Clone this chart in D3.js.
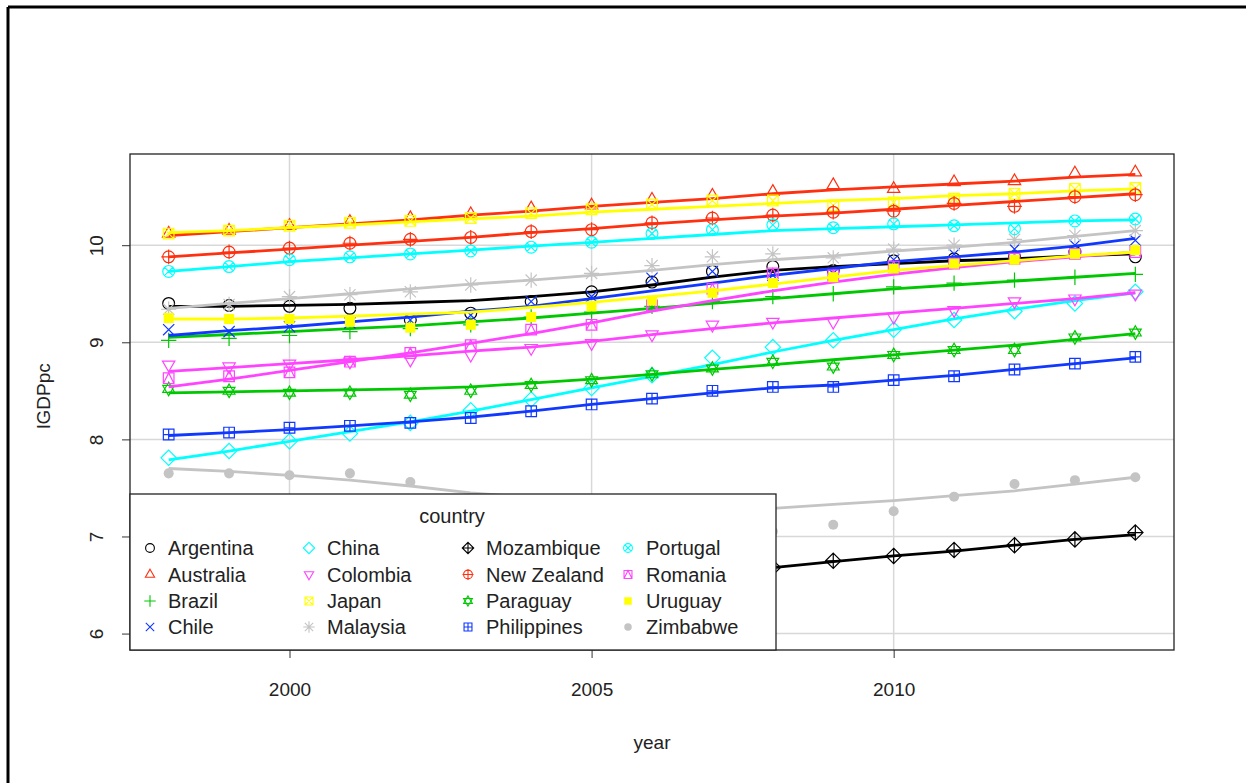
<!DOCTYPE html>
<html>
<head>
<meta charset="utf-8">
<script src="https://cdn.jsdelivr.net/npm/d3@7"></script>
<style>
  html, body { margin: 0; padding: 0; background: #fff; }
  svg { display: block; font-family: "Liberation Sans", Arial, sans-serif; }
</style>
</head>
<body>
<svg id="chart" width="1246" height="783"></svg>
<script>
// Years on the x axis
const years = [1998, 1999, 2000, 2001, 2002, 2003, 2004, 2005, 2006, 2007, 2008, 2009, 2010, 2011, 2012, 2013, 2014];
const xTicks = [2000, 2005, 2010];
const yTicks = [6, 7, 8, 9, 10];

const countries = ["Argentina", "Australia", "Brazil", "Chile", "China", "Colombia", "Japan", "Malaysia",
                   "Mozambique", "New Zealand", "Paraguay", "Philippines", "Portugal", "Romania", "Uruguay", "Zimbabwe"];

// Log GDP per capita, one value per year
const argentina   = [9.40, 9.38, 9.37, 9.35, 9.23, 9.30, 9.42, 9.52, 9.62, 9.73, 9.78, 9.74, 9.84, 9.86, 9.88, 9.93, 9.88];
const australia   = [10.12, 10.15, 10.20, 10.24, 10.28, 10.32, 10.38, 10.41, 10.47, 10.51, 10.55, 10.62, 10.58, 10.65, 10.66, 10.74, 10.75];
const brazil      = [9.02, 9.04, 9.07, 9.11, 9.14, 9.18, 9.26, 9.31, 9.37, 9.42, 9.47, 9.50, 9.57, 9.61, 9.64, 9.67, 9.70];
const chile       = [9.13, 9.11, 9.16, 9.20, 9.23, 9.28, 9.42, 9.47, 9.66, 9.73, 9.69, 9.71, 9.85, 9.91, 9.96, 10.00, 10.05];
const china       = [7.81, 7.88, 7.98, 8.06, 8.17, 8.30, 8.41, 8.53, 8.66, 8.84, 8.95, 9.02, 9.13, 9.23, 9.32, 9.40, 9.52];
const colombia    = [8.77, 8.75, 8.78, 8.80, 8.82, 8.87, 8.94, 8.99, 9.08, 9.18, 9.21, 9.21, 9.26, 9.33, 9.42, 9.45, 9.50];
const japan       = [10.12, 10.15, 10.20, 10.23, 10.25, 10.28, 10.33, 10.37, 10.42, 10.46, 10.46, 10.41, 10.44, 10.48, 10.53, 10.58, 10.59];
const malaysia    = [9.34, 9.39, 9.47, 9.49, 9.52, 9.59, 9.64, 9.71, 9.79, 9.88, 9.91, 9.87, 9.96, 10.00, 10.06, 10.10, 10.15];
const mozambique  = [6.02, 6.08, 6.10, 6.13, 6.17, 6.22, 6.30, 6.38, 6.45, 6.55, 6.68, 6.75, 6.80, 6.86, 6.91, 6.97, 7.04];
const newZealand  = [9.88, 9.93, 9.97, 10.02, 10.06, 10.08, 10.14, 10.16, 10.23, 10.28, 10.31, 10.34, 10.35, 10.43, 10.40, 10.50, 10.52];
const paraguay    = [8.52, 8.50, 8.48, 8.48, 8.46, 8.50, 8.56, 8.61, 8.67, 8.73, 8.80, 8.75, 8.87, 8.92, 8.92, 9.05, 9.10];
const philippines = [8.05, 8.07, 8.12, 8.14, 8.17, 8.22, 8.29, 8.36, 8.42, 8.50, 8.54, 8.54, 8.61, 8.65, 8.72, 8.78, 8.85];
const portugal    = [9.73, 9.78, 9.85, 9.88, 9.91, 9.94, 9.98, 10.03, 10.12, 10.16, 10.21, 10.18, 10.22, 10.20, 10.17, 10.25, 10.27];
const romania     = [8.63, 8.65, 8.69, 8.80, 8.89, 8.97, 9.13, 9.18, 9.38, 9.55, 9.71, 9.69, 9.78, 9.81, 9.86, 9.91, 9.93];
const uruguay     = [9.25, 9.24, 9.24, 9.21, 9.15, 9.18, 9.26, 9.37, 9.43, 9.51, 9.61, 9.67, 9.76, 9.81, 9.85, 9.91, 9.95];
const zimbabwe    = [7.65, 7.65, 7.63, 7.65, 7.56, 7.38, 7.35, 7.32, 7.28, 7.20, 7.05, 7.12, 7.26, 7.41, 7.54, 7.58, 7.61];

// Smoothed trend for each country, one value per year
const argentinaFit   = [9.37, 9.37, 9.38, 9.39, 9.41, 9.43, 9.47, 9.52, 9.59, 9.67, 9.74, 9.78, 9.81, 9.84, 9.86, 9.89, 9.91];
const australiaFit   = [10.10, 10.14, 10.18, 10.22, 10.26, 10.31, 10.35, 10.40, 10.44, 10.48, 10.53, 10.57, 10.60, 10.63, 10.66, 10.70, 10.73];
const brazilFit      = [9.05, 9.08, 9.11, 9.14, 9.17, 9.21, 9.25, 9.30, 9.35, 9.40, 9.45, 9.50, 9.55, 9.59, 9.63, 9.67, 9.71];
const chileFit       = [9.07, 9.12, 9.16, 9.21, 9.26, 9.32, 9.37, 9.45, 9.53, 9.61, 9.69, 9.76, 9.83, 9.88, 9.93, 9.99, 10.07];
const chinaFit       = [7.79, 7.88, 7.98, 8.08, 8.18, 8.29, 8.41, 8.53, 8.65, 8.77, 8.90, 9.02, 9.13, 9.24, 9.34, 9.43, 9.51];
const colombiaFit    = [8.70, 8.74, 8.78, 8.82, 8.86, 8.91, 8.95, 9.01, 9.08, 9.14, 9.20, 9.25, 9.30, 9.35, 9.40, 9.45, 9.51];
const japanFit       = [10.13, 10.15, 10.18, 10.21, 10.24, 10.27, 10.30, 10.34, 10.37, 10.40, 10.43, 10.46, 10.48, 10.51, 10.53, 10.56, 10.58];
const malaysiaFit    = [9.35, 9.40, 9.45, 9.50, 9.55, 9.60, 9.64, 9.69, 9.74, 9.80, 9.85, 9.89, 9.94, 9.98, 10.03, 10.09, 10.15];
const mozambiqueFit  = [6.04, 6.08, 6.12, 6.16, 6.21, 6.26, 6.32, 6.39, 6.47, 6.58, 6.68, 6.74, 6.80, 6.85, 6.91, 6.97, 7.02];
const newZealandFit  = [9.88, 9.92, 9.96, 10.00, 10.04, 10.08, 10.13, 10.17, 10.22, 10.26, 10.30, 10.33, 10.37, 10.41, 10.45, 10.49, 10.53];
const paraguayFit    = [8.48, 8.49, 8.50, 8.51, 8.52, 8.54, 8.58, 8.62, 8.67, 8.72, 8.77, 8.82, 8.87, 8.92, 8.97, 9.03, 9.09];
const philippinesFit = [8.04, 8.07, 8.10, 8.14, 8.18, 8.23, 8.29, 8.36, 8.42, 8.48, 8.53, 8.56, 8.61, 8.66, 8.72, 8.78, 8.84];
const portugalFit    = [9.73, 9.78, 9.83, 9.87, 9.91, 9.95, 9.99, 10.03, 10.07, 10.11, 10.15, 10.17, 10.19, 10.21, 10.23, 10.25, 10.26];
const romaniaFit     = [8.54, 8.62, 8.71, 8.80, 8.89, 8.99, 9.09, 9.20, 9.32, 9.43, 9.53, 9.62, 9.70, 9.77, 9.83, 9.88, 9.93];
const uruguayFit     = [9.24, 9.24, 9.25, 9.27, 9.29, 9.31, 9.36, 9.41, 9.47, 9.53, 9.60, 9.67, 9.74, 9.79, 9.84, 9.89, 9.93];
const zimbabweFit    = [7.70, 7.67, 7.63, 7.58, 7.52, 7.45, 7.40, 7.35, 7.31, 7.29, 7.29, 7.33, 7.37, 7.42, 7.47, 7.54, 7.61];

const values = [argentina, australia, brazil, chile, china, colombia, japan, malaysia,
                mozambique, newZealand, paraguay, philippines, portugal, romania, uruguay, zimbabwe];
const fits = [argentinaFit, australiaFit, brazilFit, chileFit, chinaFit, colombiaFit, japanFit, malaysiaFit,
              mozambiqueFit, newZealandFit, paraguayFit, philippinesFit, portugalFit, romaniaFit, uruguayFit, zimbabweFit];

// Base palette cycles every eight groups; symbol codes run 1..16
const palette = ["#000000", "#ff3010", "#00c800", "#1038ff", "#00ffff", "#ff44ff", "#ffff00", "#c4c4c4"];

const svg = d3.select("#chart");
const W = 1246, H = 783;
const plot = { left: 130, right: 1174, top: 154, bottom: 650 };

// Outer frame (top and left edges only)
svg.append("line").attr("x1", 8).attr("x2", W).attr("y1", 7).attr("y2", 7)
  .attr("stroke", "#000").attr("stroke-width", 3);
svg.append("line").attr("x1", 8).attr("x2", 8).attr("y1", 7).attr("y2", H)
  .attr("stroke", "#000").attr("stroke-width", 3);

// Scales with 4% padding on each side of the data range
const allVals = values.flat();
const yMin = d3.min(allVals), yMax = d3.max(allVals);
const yPad = (yMax - yMin) * 0.04;
const xPad = (d3.max(years) - d3.min(years)) * 0.04;
const x = d3.scaleLinear().domain([d3.min(years) - xPad, d3.max(years) + xPad]).range([plot.left, plot.right]);
const y = d3.scaleLinear().domain([yMin - yPad, yMax + yPad]).range([plot.bottom, plot.top]);

// Grid
const grid = svg.append("g").attr("stroke", "#d8d8d8").attr("stroke-width", 1.5);
xTicks.forEach(t => grid.append("line").attr("x1", x(t)).attr("x2", x(t)).attr("y1", plot.top).attr("y2", plot.bottom));
yTicks.forEach(t => grid.append("line").attr("x1", plot.left).attr("x2", plot.right).attr("y1", y(t)).attr("y2", y(t)));

// Axes
const xAxis = svg.append("g").attr("transform", `translate(0,${plot.bottom})`)
  .call(d3.axisBottom(x).tickValues(xTicks).tickFormat(d3.format("d")).tickSize(8).tickPadding(22));
const yAxis = svg.append("g").attr("transform", `translate(${plot.left},0)`)
  .call(d3.axisLeft(y).tickValues(yTicks).tickFormat(d3.format("d")).tickSize(8));
[xAxis, yAxis].forEach(a => {
  a.select(".domain").remove();
  a.selectAll(".tick line").attr("stroke", "#333").attr("stroke-width", 1);
  a.selectAll(".tick text").attr("fill", "#222").style("font-size", "19px")
    .style("font-family", '"Liberation Sans", Arial, sans-serif');
});
xAxis.selectAll(".tick text").attr("dy", "0.32em").attr("y", 40);
yAxis.selectAll(".tick text")
  .attr("x", null).attr("dy", null)
  .attr("text-anchor", "middle")
  .attr("transform", "translate(-34,0) rotate(-90)")
  .attr("dy", "0.35em");

// Axis titles
svg.append("text").attr("x", (plot.left + plot.right) / 2).attr("y", 742).attr("dy", "0.35em")
  .attr("text-anchor", "middle").attr("fill", "#222").style("font-size", "19px").text("year");
svg.append("text").attr("transform", `translate(43,${(plot.top + plot.bottom) / 2 - 6}) rotate(-90)`)
  .attr("dy", "0.35em").attr("text-anchor", "middle").attr("fill", "#222").style("font-size", "19px").text("lGDPpc");

// Plotting symbols, after R's pch 1..16
function symbolPath(pch, r) {
  const p = d3.path();
  const circle = (rr) => { p.moveTo(rr, 0); p.arc(0, 0, rr, 0, 2 * Math.PI); };
  const tri = (up, s) => {
    const h = s * 1.15, b = s * 0.58, w = s;
    if (up) { p.moveTo(0, -h); p.lineTo(w, b); p.lineTo(-w, b); p.closePath(); }
    else { p.moveTo(0, h); p.lineTo(w, -b); p.lineTo(-w, -b); p.closePath(); }
  };
  const plus = (s) => { p.moveTo(-s, 0); p.lineTo(s, 0); p.moveTo(0, -s); p.lineTo(0, s); };
  const cross = (s) => { p.moveTo(-s, -s); p.lineTo(s, s); p.moveTo(-s, s); p.lineTo(s, -s); };
  const square = (s) => { p.rect(-s, -s, 2 * s, 2 * s); };
  const diamond = (s) => { p.moveTo(0, -s); p.lineTo(s, 0); p.lineTo(0, s); p.lineTo(-s, 0); p.closePath(); };
  switch (pch) {
    case 1: circle(r); break;
    case 2: tri(true, r * 1.05); break;
    case 3: plus(r * 1.3); break;
    case 4: cross(r * 0.95); break;
    case 5: diamond(r * 1.3); break;
    case 6: tri(false, r * 1.05); break;
    case 7: square(r * 0.9); cross(r * 0.9); break;
    case 8: plus(r * 1.3); cross(r * 0.95); break;
    case 9: diamond(r * 1.3); plus(r * 1.3); break;
    case 10: circle(r); plus(r * 1.25); break;
    case 11: { const s = r * 1.0;
      p.moveTo(0, -s * 1.15); p.lineTo(s, s * 0.58); p.lineTo(-s, s * 0.58); p.closePath();
      p.moveTo(0, s * 1.15); p.lineTo(s, -s * 0.58); p.lineTo(-s, -s * 0.58); p.closePath(); break; }
    case 12: square(r * 0.9); plus(r * 0.9); break;
    case 13: circle(r); cross(r * 0.72); break;
    case 14: square(r * 0.9); p.moveTo(-r * 0.9, r * 0.9); p.lineTo(0, -r * 0.9); p.lineTo(r * 0.9, r * 0.9); break;
    case 15: square(r * 0.85); break;
    case 16: circle(r * 0.85); break;
  }
  return p.toString();
}

const line = d3.line().x((d, i) => x(years[i])).y(d => y(d));

// Points and smoothed trend, group by group
const marks = svg.append("g");
countries.forEach((name, gi) => {
  const col = palette[gi % 8];
  const pch = gi + 1;
  const filled = pch >= 15;
  const g = marks.append("g");
  g.selectAll("path.pt").data(values[gi]).join("path")
    .attr("class", "pt")
    .attr("transform", (d, i) => `translate(${x(years[i])},${y(d)})`)
    .attr("d", symbolPath(pch, 5.9))
    .attr("fill", filled ? col : "none")
    .attr("stroke", filled ? "none" : col)
    .attr("stroke-width", 1.2);
  g.append("path").datum(fits[gi])
    .attr("d", line)
    .attr("fill", "none").attr("stroke", col).attr("stroke-width", 2.8)
    .attr("stroke-linejoin", "round");
});

// Plot frame
svg.append("rect").attr("x", plot.left).attr("y", plot.top)
  .attr("width", plot.right - plot.left).attr("height", plot.bottom - plot.top)
  .attr("fill", "none").attr("stroke", "#222").attr("stroke-width", 1.3);

// Legend
const leg = { left: 130, top: 494, right: 776, bottom: 650 };
svg.append("rect").attr("x", leg.left).attr("y", leg.top)
  .attr("width", leg.right - leg.left).attr("height", leg.bottom - leg.top)
  .attr("fill", "#fff").attr("stroke", "#222").attr("stroke-width", 1.3);
svg.append("text").attr("x", (leg.left + leg.right) / 2 - 1).attr("y", 516).attr("dy", "0.35em")
  .attr("text-anchor", "middle").attr("fill", "#222").style("font-size", "20px").text("country");

const colSymX = [150, 309, 468, 628];
const rowY = [548, 574.5, 601, 627];
countries.forEach((name, gi) => {
  const c = Math.floor(gi / 4), r = gi % 4;
  const col = palette[gi % 8];
  const pch = gi + 1;
  const filled = pch >= 15;
  svg.append("path")
    .attr("transform", `translate(${colSymX[c]},${rowY[r]})`)
    .attr("d", symbolPath(pch, 4.4))
    .attr("fill", filled ? col : "none")
    .attr("stroke", filled ? "none" : col)
    .attr("stroke-width", 1.1);
  svg.append("text").attr("x", colSymX[c] + 18).attr("y", rowY[r]).attr("dy", "0.35em")
    .attr("fill", "#222").style("font-size", "20px").text(name);
});
</script>
</body>
</html>
